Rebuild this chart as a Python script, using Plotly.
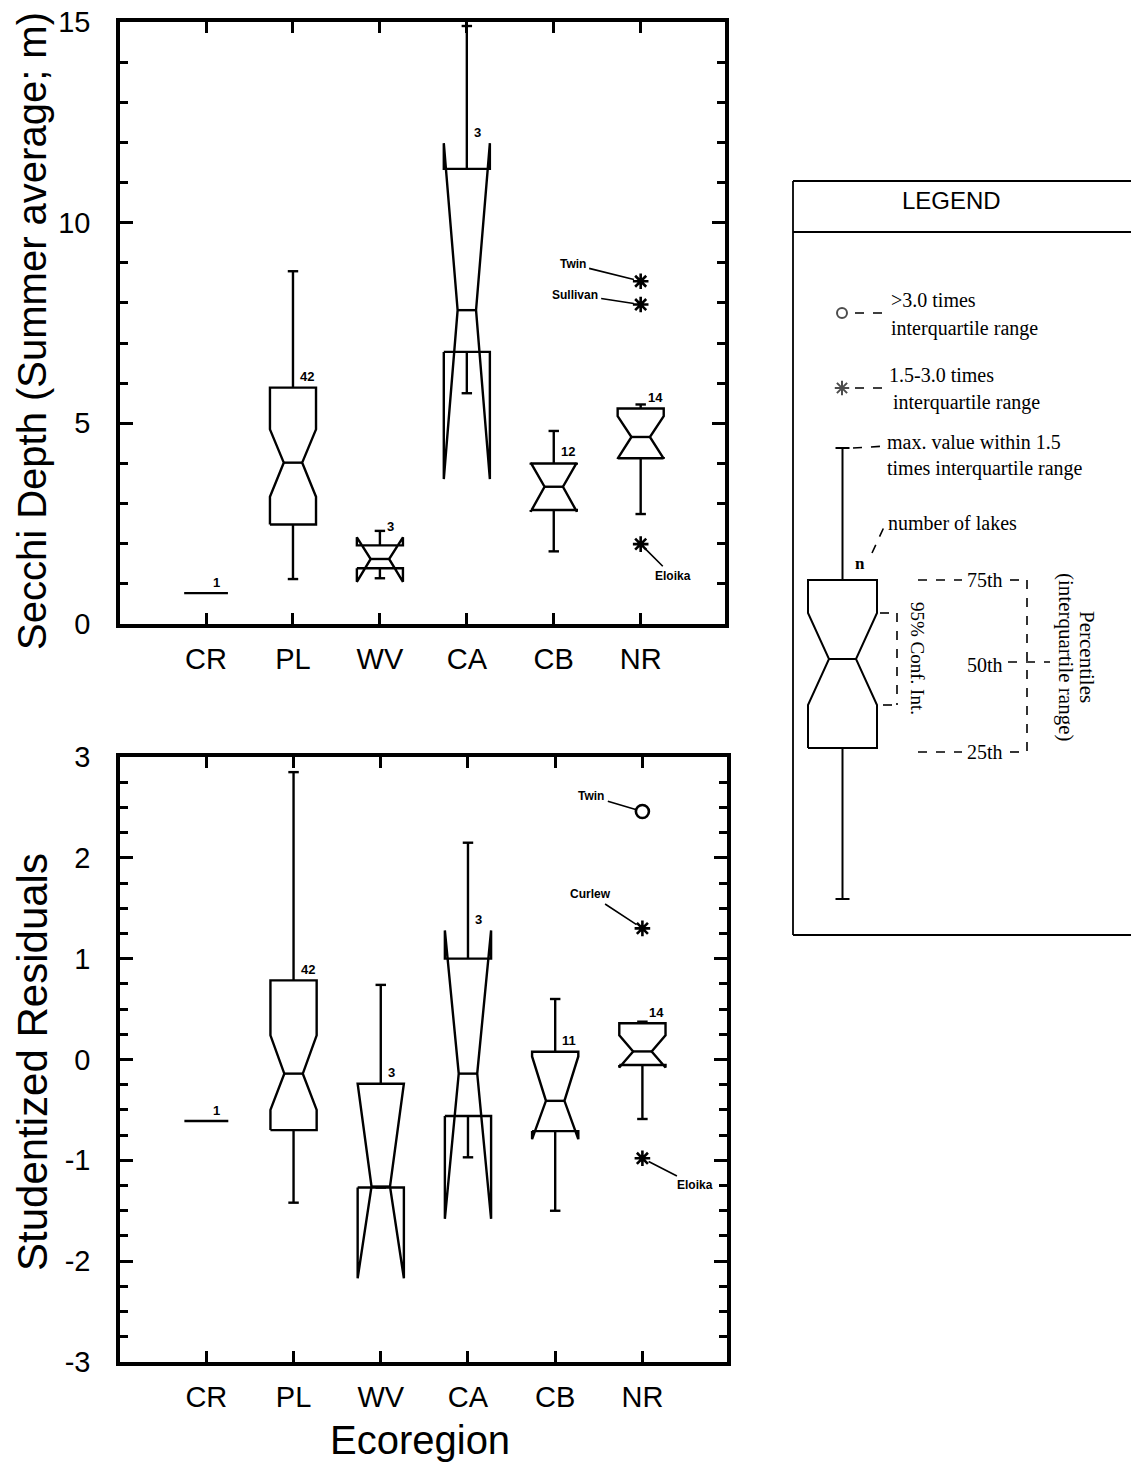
import plotly.graph_objects as go

W, H = 1131, 1463

# ---------------- data ----------------
categories = ["CR", "PL", "WV", "CA", "CB", "NR"]

# Top panel: Secchi depth (summer average, m)
secchi_ticks = [0, 5, 10, 15]
secchi_n = [1, 42, 3, 3, 12, 14]
secchi_whisker_lo = [0.77, 1.12, 1.14, 5.75, 1.81, 2.74]
secchi_q1 = [0.77, 2.48, 1.39, 6.78, 2.84, 4.13]
secchi_ci_lo = [0.77, 3.17, 1.05, 3.61, 2.80, 4.12]
secchi_median = [0.77, 4.02, 1.62, 7.82, 3.42, 4.66]
secchi_ci_hi = [0.77, 4.85, 2.16, 11.98, 4.02, 5.18]
secchi_q3 = [0.77, 5.89, 1.96, 11.34, 4.00, 5.37]
secchi_whisker_hi = [0.77, 8.79, 2.32, 14.9, 4.81, 5.47]
secchi_out_cat = ["NR", "NR", "NR"]
secchi_out_val = [8.54, 7.96, 1.99]
secchi_out_name = ["Twin", "Sullivan", "Eloika"]
secchi_out_kind = ["star", "star", "star"]

# Bottom panel: studentized residuals
resid_ticks = [-3, -2, -1, 0, 1, 2, 3]
resid_tick_text = ["-3", "-2", "-1", "0", "1", "2", "3"]
resid_n = [1, 42, 3, 3, 11, 14]
resid_whisker_lo = [-0.61, -1.42, -1.27, -0.97, -1.50, -0.59]
resid_q1 = [-0.61, -0.70, -1.27, -0.56, -0.71, -0.055]
resid_ci_lo = [-0.61, -0.50, -2.17, -1.58, -0.79, -0.08]
resid_median = [-0.61, -0.14, -1.26, -0.14, -0.41, 0.08]
resid_ci_hi = [-0.61, 0.24, -0.24, 1.28, 0.03, 0.24]
resid_q3 = [-0.61, 0.785, -0.24, 1.00, 0.077, 0.36]
resid_whisker_hi = [-0.61, 2.85, 0.74, 2.15, 0.60, 0.375]
resid_out_cat = ["NR", "NR", "NR"]
resid_out_val = [2.46, 1.30, -0.98]
resid_out_name = ["Twin", "Curlew", "Eloika"]
resid_out_kind = ["circle", "star", "star"]

# ---------------- styling ----------------
SANS = "Liberation Sans, Arial, Helvetica, sans-serif"
SERIF = "Liberation Serif, Times New Roman, serif"
BOX_HW = 0.265
NOTCH_FRAC = 0.4
CAP_HW = 0.06
LW = 2.4
# pixel offsets of outlier name labels relative to their point (style only)
secchi_lbl_off = [(-68, -17), (-66, -10), (32, 32)]
resid_lbl_off = [(-51, -15), (-52, -34), (53, 27)]

fig = go.Figure()


def box_path(wlo, q1, cilo, med, cihi, q3, whi, n):
    xs, ys = [], []
    for i in range(len(categories)):
        x = i + 1
        if n[i] == 1:
            xs += [x - BOX_HW * 0.95, x + BOX_HW * 0.95, None]
            ys += [med[i], med[i], None]
            continue
        w = BOX_HW
        nw = BOX_HW * NOTCH_FRAC
        xs += [x - w, x - w, x - nw, x - w, x - w, x + w, x + w, x + nw, x + w, x + w, x - w, None]
        ys += [q1[i], cilo[i], med[i], cihi[i], q3[i], q3[i], cihi[i], med[i], cilo[i], q1[i], q1[i], None]
        xs += [x - nw, x + nw, None]
        ys += [med[i], med[i], None]
        xs += [x, x, None, x - CAP_HW, x + CAP_HW, None, x, x, None, x - CAP_HW, x + CAP_HW, None]
        ys += [q3[i], whi[i], None, whi[i], whi[i], None, q1[i], wlo[i], None, wlo[i], wlo[i], None]
    return xs, ys


panels = [
    ("x", "y", secchi_n, secchi_whisker_lo, secchi_q1, secchi_ci_lo, secchi_median, secchi_ci_hi,
     secchi_q3, secchi_whisker_hi, secchi_out_cat, secchi_out_val, secchi_out_name, secchi_out_kind, secchi_lbl_off),
    ("x2", "y2", resid_n, resid_whisker_lo, resid_q1, resid_ci_lo, resid_median, resid_ci_hi,
     resid_q3, resid_whisker_hi, resid_out_cat, resid_out_val, resid_out_name, resid_out_kind, resid_lbl_off),
]

annotations = []
for (xr, yr, n, wlo, q1, cilo, med, cihi, q3, whi, ocat, oval, oname, okind, ooff) in panels:
    xs, ys = box_path(wlo, q1, cilo, med, cihi, q3, whi, n)
    fig.add_trace(go.Scatter(x=xs, y=ys, mode="lines", xaxis=xr, yaxis=yr,
                             line=dict(color="black", width=LW), showlegend=False, hoverinfo="skip"))
    ox = [categories.index(c) + 1 for c in ocat]
    syms = ["asterisk-open" if k == "star" else "circle-open" for k in okind]
    fig.add_trace(go.Scatter(x=ox, y=oval, mode="markers", xaxis=xr, yaxis=yr,
                             marker=dict(symbol=syms, size=13,
                                         color="black", line=dict(color="black", width=2.6)),
                             showlegend=False, hoverinfo="skip"))
    # n labels
    for i in range(len(categories)):
        ytop = max(q3[i], cihi[i])
        annotations.append(dict(x=i + 1, y=ytop, xref=xr, yref=yr, text=str(n[i]), showarrow=False,
                                xanchor="left", yanchor="middle", xshift=5, yshift=11,
                                font=dict(family=SANS, size=13, color="black", weight="bold")))
    # outlier names
    for cx, v, nm, (dx, dy) in zip(ox, oval, oname, ooff):
        annotations.append(dict(x=cx, y=v, xref=xr, yref=yr, text=nm, showarrow=True,
                                arrowhead=0, arrowwidth=1.6, arrowcolor="black", ax=dx, ay=dy,
                                standoff=7, startstandoff=2,
                                font=dict(family=SANS, size=12, color="black", weight="bold")))

# ---------------- axes ----------------
def xaxis_cfg(domain_px, anchor):
    return dict(domain=[domain_px[0] / W, domain_px[1] / W], anchor=anchor, range=[0.01, 6.97],
                tickvals=list(range(1, len(categories) + 1)), ticktext=categories,
                ticks="inside", ticklen=11, tickwidth=2.5, tickcolor="black",
                showline=True, linecolor="black", linewidth=3.5, mirror="allticks",
                showgrid=False, zeroline=False, ticklabelstandoff=6, automargin=False,
                tickfont=dict(family=SANS, size=29, color="black"), fixedrange=True)


def yaxis_cfg(domain_px, anchor, rng, tickvals, ticktext, minor_dtick):
    return dict(domain=[1 - domain_px[1] / H, 1 - domain_px[0] / H], anchor=anchor, range=rng,
                tickvals=tickvals, ticktext=ticktext,
                ticks="inside", ticklen=13, tickwidth=2.5, tickcolor="black",
                minor=dict(tick0=rng[0], dtick=minor_dtick, ticks="inside", ticklen=8, tickwidth=2.5,
                           tickcolor="black", showgrid=False),
                showline=True, linecolor="black", linewidth=3.5, mirror="allticks",
                showgrid=False, zeroline=False, ticklabelstandoff=20, automargin=False,
                tickfont=dict(family=SANS, size=29, color="black"), fixedrange=True)


fig.update_layout(
    width=W, height=H, margin=dict(l=0, r=0, t=0, b=0, pad=0, autoexpand=False),
    paper_bgcolor="white", plot_bgcolor="rgba(0,0,0,0)", showlegend=False,
    xaxis=xaxis_cfg((120, 725), "y"),
    yaxis=yaxis_cfg((22, 624), "x", [0, 15], secchi_ticks, [str(t) for t in secchi_ticks], 1),
    xaxis2=xaxis_cfg((120, 727), "y2"),
    yaxis2=yaxis_cfg((757, 1362), "x2", [-3, 3], resid_ticks, resid_tick_text, 0.25),
    xaxis3=dict(domain=[0, 1], anchor="y3", range=[0, W], visible=False, fixedrange=True, automargin=False),
    yaxis3=dict(domain=[0, 1], anchor="x3", range=[H, 0], visible=False, fixedrange=True, automargin=False),
)

# axis titles
annotations += [
    dict(x=32, y=331, xref="x3", yref="y3", text="Secchi Depth (Summer average; m)", textangle=-90,
         showarrow=False, font=dict(family=SANS, size=40, color="black")),
    dict(x=32, y=1062, xref="x3", yref="y3", text="Studentized Residuals", textangle=-90,
         showarrow=False, font=dict(family=SANS, size=42, color="black")),
    dict(x=420, y=1440, xref="x3", yref="y3", text="Ecoregion",
         showarrow=False, font=dict(family=SANS, size=40, color="black")),
]

# ---------------- schematic legend (pixel coordinates on overlay axis) ----------------
shapes = []


def seg(x0, y0, x1, y1, dash="solid", width=1.6):
    shapes.append(dict(type="line", xref="x3", yref="y3", x0=x0, y0=y0, x1=x1, y1=y1,
                       line=dict(color="black", width=width, dash=dash)))


# frame
seg(793, 181, 1140, 181, width=1.8)
seg(793, 181, 793, 935, width=1.8)
seg(793, 935, 1140, 935, width=1.8)
seg(793, 232, 1140, 232, width=1.8)
annotations.append(dict(x=951, y=200, xref="x3", yref="y3", text="LEGEND", showarrow=False,
                        font=dict(family=SANS, size=24, color="black")))

# example notched box
lx, lw, lnw = 842.5, 34.5, 13.5
l_q3, l_cihi, l_med, l_cilo, l_q1, l_top, l_bot = 580, 613, 659, 705, 748, 448, 899
bx = [lx - lw, lx - lw, lx - lnw, lx - lw, lx - lw, lx + lw, lx + lw, lx + lnw, lx + lw, lx + lw, lx - lw, None,
      lx - lnw, lx + lnw, None, lx, lx, None, lx - 7, lx + 7, None, lx, lx, None, lx - 7, lx + 7]
by = [l_q1, l_cilo, l_med, l_cihi, l_q3, l_q3, l_cihi, l_med, l_cilo, l_q1, l_q1, None,
      l_med, l_med, None, l_q3, l_top, None, l_top, l_top, None, l_q1, l_bot, None, l_bot, l_bot]
fig.add_trace(go.Scatter(x=bx, y=by, mode="lines", xaxis="x3", yaxis="y3",
                         line=dict(color="black", width=2), showlegend=False, hoverinfo="skip"))
fig.add_trace(go.Scatter(x=[842, 842], y=[313, 388], mode="markers", xaxis="x3", yaxis="y3",
                         marker=dict(symbol=["circle-open", "asterisk-open"], size=[10, 12], color="black",
                                     line=dict(color="black", width=2)),
                         showlegend=False, hoverinfo="skip"))

seg(855, 313, 887, 313, "dash")
seg(855, 388, 887, 388, "dash")
seg(853, 448, 887, 446, "dash")
seg(872, 553, 884, 527, "dash")
# conf. int. bracket
seg(880, 613, 897, 613, "dash")
seg(897, 613, 897, 705, "dash")
seg(883, 705, 897, 705, "dash")
# percentile bracket
seg(918, 580, 962, 580, "dash")
seg(918, 752, 962, 752, "dash")
seg(1010, 580, 1027, 580, "dash")
seg(1027, 580, 1027, 752, "dash")
seg(1010, 752, 1027, 752, "dash")
seg(1008, 662, 1050, 662, "dash")


def ltxt(x, y, t, size=20, anchor="left", angle=0, bold=False):
    annotations.append(dict(x=x, y=y, xref="x3", yref="y3", text=t, showarrow=False, xanchor=anchor,
                            yanchor="middle", textangle=angle,
                            font=dict(family=SERIF, size=size, color="black",
                                      weight="bold" if bold else "normal")))


ltxt(889, 300, "&gt;3.0 times")
ltxt(889, 328, "interquartile range")
ltxt(887, 375, "1.5-3.0 times")
ltxt(891, 402, "interquartile range")
ltxt(885, 442, "max. value within 1.5")
ltxt(885, 468, "times interquartile range")
ltxt(886, 523, "number of lakes")
ltxt(860, 563, "n", size=17, anchor="center", bold=True)
ltxt(985, 580, "75th", anchor="center")
ltxt(985, 665, "50th", anchor="center")
ltxt(985, 752, "25th", anchor="center")
ltxt(918, 658, "95% Conf. Int.", size=19, anchor="center", angle=90)
ltxt(1087, 657, "Percentiles", size=21, anchor="center", angle=90)
ltxt(1066, 657, "(interquartile range)", size=21, anchor="center", angle=90)

fig.update_layout(annotations=annotations, shapes=shapes)
fig.write_html("out.html")
